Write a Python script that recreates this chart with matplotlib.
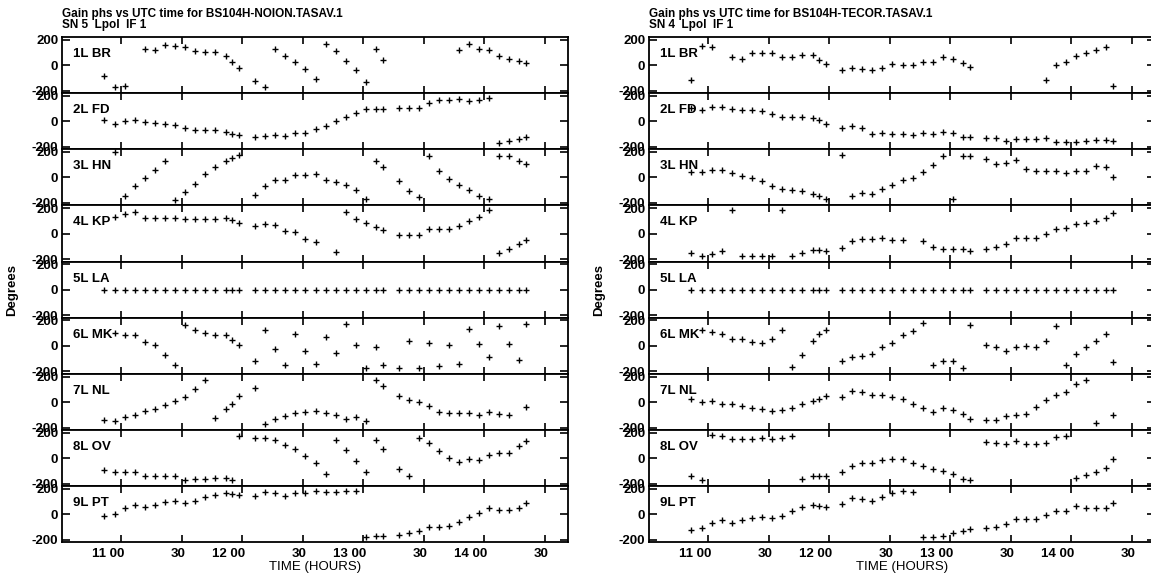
import numpy as np
import matplotlib
matplotlib.use("Agg")
import matplotlib.pyplot as plt
from matplotlib.transforms import ScaledTranslation

plt.rcParams['font.family'] = ['Liberation Sans', 'DejaVu Sans']
plt.rcParams['font.weight'] = 'bold'
plt.rcParams['font.size'] = 9.5

N = None
# scan times in minutes after 11:00 UTC
scan_minutes = [-8.3, -3.2, 1.8, 6.8, 11.8, 16.8, 21.8, 26.8, 31.8, 36.8, 41.8, 46.8, 51.8, 55.0, 58.3,
                66.2, 71.2, 76.3, 81.3, 86.3, 91.3, 96.4, 101.4, 106.4, 111.4, 116.4, 121.4, 126.4, 129.7,
                137.6, 142.5, 147.5, 152.5, 157.5, 162.5, 167.5, 172.5, 177.5, 182.5, 187.5, 192.5, 197.5, 200.8]

antenna_labels = ['1L BR', '2L FD', '3L HN', '4L KP', '5L LA', '6L MK', '7L NL', '8L OV', '9L PT']
tick_hours = [11.0, 11.5, 12.0, 12.5, 13.0, 13.5, 14.0, 14.5]
tick_labels = ['11 00', '30', '12 00', '30', '13 00', '30', '14 00', '30']
y_ticks = [-200, 0, 200]
y_tick_labels = ['-200', '0', '200']

# ---- SN 5 (NOION) gain phases, degrees ----
noion_br = [-84, -168, -163, N, 127, 115, 158, 148, 140, 107, 102, 102, 74, 26, -23,
            -128, -168, 127, 74, 26, -28, -110, 163, 107, 33, -36, -130, 127, 43,
            N, N, N, N, N, N, 115, 163, 127, 115, 74, 48, 33, 15]
noion_fd = [8, -18, 0, 13, -5, -13, -18, -28, -56, -69, -69, -69, -82, -99, -110,
            -122, -115, -110, -115, -89, -89, -64, -41, 3, 31, 64, 94, 94, 94,
            107, 107, 107, 145, 166, 166, 173, 155, 166, 184, -171, -158, -140, -122]
noion_hn = [N, 198, -148, -68, -8, 55, 130, -174, -117, -55, 23, 83, 130, 151, 177,
            -135, -65, -21, -21, 16, 21, 23, -18, -39, -62, -96, -166, 125, 81,
            -31, -109, -156, 169, 52, -16, -62, -96, -143, -169, 164, 164, 125, 104]
noion_kp = [N, 127, 153, 172, 125, 125, 125, 125, 114, 114, 114, 114, 120, 104, 86,
            60, 75, 65, 23, 10, -39, -70, N, -148, 166, 117, 81, 52, 31,
            -10, -10, -8, 34, 34, 34, 60, 99, 133, 185, -153, -120, -81, -49]
noion_la = [0] * 43
noion_mk = [N, 101, 83, 83, 31, 5, -73, -146, 166, 127, 104, 88, 83, 49, 5,
            -120, 122, -21, -151, 96, -39, -143, 70, -52, 172, 5, -172, -8, -151,
            -177, 39, -177, 23, -159, 5, -143, 135, 18, -86, 153, 13, -112, 174]
noion_nl = [-138, -148, -117, -104, -73, -52, -26, 5, 39, 104, 169, -125, -52, -13, 49,
            112, -169, -130, -112, -83, -78, -70, -86, -104, -130, -117, -151, 174, 122,
            47, 13, 0, -31, -78, -86, -86, -86, -104, -78, -96, -104, N, -39]
noion_ov = [-96, -109, -109, -109, -143, -143, -143, -143, -169, -164, -161, -156, -156, -174, 177,
            156, 161, 143, 104, 73, 21, -34, -125, 143, 65, -21, -112, 143, 73,
            -83, -138, 156, 122, 57, 0, -26, -5, -13, 26, 39, 44, 96, 138]
noion_pt = [-10, 3, 47, 73, 55, 73, 94, 104, 91, 104, 138, 151, 164, 159, 151,
            143, 172, 164, 146, 164, 169, 182, 177, 177, 182, 185, -174, -169, -169,
            -161, -148, -127, -96, -96, -91, -57, -18, 8, 47, 34, 34, 52, 91]

# ---- SN 4 (TECOR) gain phases, degrees ----
tecor_br = [-117, 153, 145, N, 64, 48, 94, 94, 94, 64, 64, 82, 77, 43, 10,
            -38, -26, -33, -38, -20, 5, 0, -3, 23, 26, 64, 48, 18, -15,
            N, N, N, N, N, N, -117, -3, 23, 69, 94, 120, 145, -161]
tecor_fd = [102, 89, 110, 110, 94, 89, 89, 84, 56, 33, 33, 33, 26, 8, -18,
            -51, -38, -51, -97, -94, -97, -102, -107, -89, -102, -82, -89, -120, -122,
            -128, -135, -153, -140, -140, -140, -128, -161, -166, -161, -153, -145, -145, -153]
tecor_hn = [42, 42, 60, 55, 34, 8, -5, -31, -70, -91, -96, -104, -130, -148, -166,
            177, -148, -122, -127, -88, -57, -18, -5, 44, 99, 169, -169, 169, 169,
            143, 104, 112, 133, 65, 47, 47, 47, 34, 47, 52, 91, 81, 0]
tecor_kp = [-153, -172, -159, -135, 185, -174, -174, -174, -174, 185, -172, -153, -127, -127, -135,
            -114, -62, -42, -44, -31, -49, -49, N, -62, -109, -120, -120, -120, -140,
            -120, -109, -81, -31, -31, -31, -3, 34, 42, 75, 86, 99, 120, 159]
tecor_la = [0] * 43
tecor_mk = [N, 122, 109, 96, 52, 52, 31, 26, 57, 122, -169, -73, 39, 91, 127,
            -120, -86, -81, -60, -8, 23, 88, 114, 179, -146, -117, -117, -172, 166,
            10, -8, -42, -8, -3, -8, 39, 156, -146, -65, -8, 36, 91, -130]
tecor_nl = [26, 0, 8, -13, -18, -34, -44, -57, -73, -65, -44, -18, 5, 21, 44,
            39, 86, 78, 52, 52, 39, 26, -18, -44, -78, -47, -60, -96, -130,
            -138, -143, -109, -104, -91, -39, 18, 52, 78, 143, 174, -161, N, -99]
tecor_ov = [-143, -169, 182, 174, 148, 148, 148, 156, 148, 156, 177, -161, -138, -138, -143,
            -109, -60, -39, -39, -13, -8, -8, -39, -65, -83, -99, -122, -161, -174,
            130, 122, 112, 138, 112, 112, 117, 164, 174, -156, -130, -112, -78, -5]
tecor_pt = [-122, -104, -70, -44, -65, -44, -31, -18, -26, -10, 29, 55, 73, 65, 60,
            78, 125, 117, 107, 138, 169, 182, 172, -179, -174, -169, -143, -130, -117,
            -104, -96, -75, -39, -39, -36, -5, 26, 29, 65, 52, 52, 47, 86]

titles_left = ['Gain phs vs UTC time for BS104H-NOION.TASAV.1', 'SN 5  Lpol  IF 1']
titles_right = ['Gain phs vs UTC time for BS104H-TECOR.TASAV.1', 'SN 4  Lpol  IF 1']

noion = [noion_br, noion_fd, noion_hn, noion_kp, noion_la, noion_mk, noion_nl, noion_ov, noion_pt]
tecor = [tecor_br, tecor_fd, tecor_hn, tecor_kp, tecor_la, tecor_mk, tecor_nl, tecor_ov, tecor_pt]

hours = 11.0 + np.array(scan_minutes) / 60.0

W, H = 1151, 578
fig = plt.figure(figsize=(W / 100, H / 100), dpi=100)

panel_top = 37.0
panel_h = 56.16
axes_w = 505.4
xlim = (10.515, 14.69)

for x0, series, titles in [(62.3, noion, titles_left), (649.3, tecor, titles_right)]:
    for i in range(9):
        y_top = panel_top + i * panel_h
        ax = fig.add_axes([x0 / W, 1 - (y_top + panel_h) / H, axes_w / W, panel_h / H])
        vals = np.array(series[i], dtype=float)
        ax.plot(hours, vals, ls='none', marker='+', ms=4.8, mew=1.0, color='black')
        ax.set_xlim(*xlim)
        ax.set_ylim(-220, 220)
        ax.set_yticks(y_ticks)
        ax.set_yticklabels(y_tick_labels)
        ax.set_xticks(tick_hours)
        for s in ax.spines.values():
            s.set_linewidth(1.3)
        ax.tick_params(axis='both', direction='in', top=True, right=True,
                       length=5, width=1.2, pad=3, labelsize=9.5)
        ax.tick_params(axis='y', length=5.5)
        if i == 8:
            ax.set_xticklabels(tick_labels)
            ax.tick_params(axis='x', pad=4)
            for lbl in ax.get_xticklabels():
                lbl.set_ha('right')
                lbl.set_transform(lbl.get_transform() + ScaledTranslation(3.5 / 100, 0, fig.dpi_scale_trans))
            ax.set_xlabel('TIME (HOURS)', fontsize=9.5, labelpad=0.5)
        else:
            ax.tick_params(axis='x', labelbottom=False)
        ax.text(10.4 / axes_w, 1 - 20.0 / panel_h, antenna_labels[i], transform=ax.transAxes,
                ha='left', va='baseline', fontsize=9.5)

    fig.text(x0 / W, 1 - 17.0 / H, titles[0], ha='left', va='baseline', fontsize=8.5)
    fig.text(x0 / W, 1 - 28.0 / H, titles[1], ha='left', va='baseline', fontsize=8.5)
    fig.text((x0 - 50) / W, 1 - 289.5 / H, 'Degrees', rotation=90, ha='center', va='center', fontsize=9.5)

fig.savefig('out.png', dpi=100)
